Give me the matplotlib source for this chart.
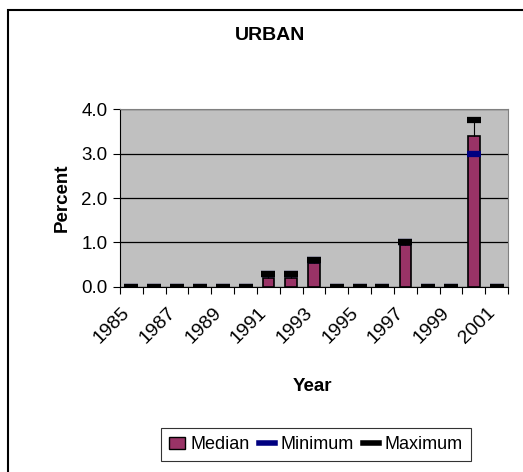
import matplotlib.pyplot as plt
import numpy as np
from matplotlib.patches import Rectangle
from matplotlib.lines import Line2D
from matplotlib.transforms import ScaledTranslation

plt.rcParams['font.family'] = ['Liberation Sans', 'DejaVu Sans']

# Data
years = list(range(1985, 2002))
median = [0, 0, 0, 0, 0, 0, 0.2, 0.2, 0.55, 0, 0, 0, 0.95, 0, 0, 3.4, 0]
minimum = [0, 0, 0, 0, 0, 0, 0.3, 0.3, 0.6, 0, 0, 0, 1.0, 0, 0, 3.0, 0]
maximum = [0, 0, 0, 0, 0, 0, 0.3, 0.3, 0.6, 0, 0, 0, 1.0, 0, 0, 3.75, 0]
tick_labels = [str(y) for y in years[::2]]

bar_color = '#993366'

fig = plt.figure(figsize=(5.23, 4.72), dpi=100)
ax = fig.add_axes([0.2294, 0.392, 0.742, 0.377])

x = np.arange(len(years))
ax.set_facecolor('#C0C0C0')
ax.bar(x, median, width=0.5, color=bar_color, edgecolor='black', linewidth=1.2, zorder=3)

# thin line from the median up to the maximum, as in the original
for i in range(len(years)):
    if maximum[i] > median[i] and median[i] > 0:
        ax.vlines(x[i], median[i], maximum[i], color='black', linewidth=0.8, zorder=3)

ax.plot(x, minimum, linestyle='none', marker='_', markersize=10, mew=4.5,
        color='#000080', zorder=4)
ax.plot(x, maximum, linestyle='none', marker='_', markersize=10, mew=4.5,
        color='black', zorder=5)

ax.set_xlim(-0.5, len(years) - 0.5)
ax.set_ylim(0, 4)
ax.set_yticks([0, 1, 2, 3, 4])
ax.set_yticklabels(['0.0', '1.0', '2.0', '3.0', '4.0'], fontsize=13.5)
ax.yaxis.grid(True, color='black', linewidth=0.9, zorder=1)
ax.set_axisbelow(True)

ax.set_xticks(np.arange(-0.5, len(years), 1))
ax.set_xticklabels([])
ax.set_xticks(x[::2], minor=True)
ax.set_xticklabels(tick_labels, minor=True, rotation=45, ha='right', va='center',
                   rotation_mode='anchor', fontsize=14)
ax.tick_params(axis='x', which='minor', length=0, pad=0)
ax.tick_params(axis='x', which='major', length=5, direction='out', color='black')
ax.tick_params(axis='y', length=5, direction='out', pad=4)
shift = ScaledTranslation(-4 / 100, -23 / 100, fig.dpi_scale_trans)
for lbl in ax.get_xticklabels(minor=True):
    lbl.set_transform(lbl.get_transform() + shift)

for side in ['top', 'right']:
    ax.spines[side].set_color('#808080')
for side in ['left', 'bottom']:
    ax.spines[side].set_color('black')

ax.set_xlabel('Year', fontsize=13.5, fontweight='bold')
ax.xaxis.set_label_coords(0.495, -0.511)
ax.set_ylabel('Percent', fontsize=13.5, fontweight='bold', va='center')
ax.yaxis.set_label_coords(-0.149, 0.5)
fig.text(0.516, 0.924, 'URBAN', ha='center', va='center', fontsize=14, fontweight='bold')

handles = [Rectangle((0, 0), 1, 1, facecolor=bar_color, edgecolor='black'),
           Line2D([], [], color='#000080', linewidth=4),
           Line2D([], [], color='black', linewidth=4)]
leg = fig.legend(handles, ['Median', 'Minimum', 'Maximum'], loc='center',
                 bbox_to_anchor=(0.604, 0.0575), ncol=3, fontsize=13, frameon=True,
                 fancybox=False, edgecolor='black', handlelength=0.9, handletextpad=0.3,
                 columnspacing=0.5, borderpad=0.45, borderaxespad=0)
leg.get_frame().set_linewidth(0.8)

# outer chart border (cut off at right and bottom)
fig.patches.append(Rectangle((8 / 523, -0.05), 1.1, 1 - 10 / 472 + 0.05,
                             transform=fig.transFigure, fill=False,
                             edgecolor='black', linewidth=1.5))

fig.savefig('out.png', dpi=100)
